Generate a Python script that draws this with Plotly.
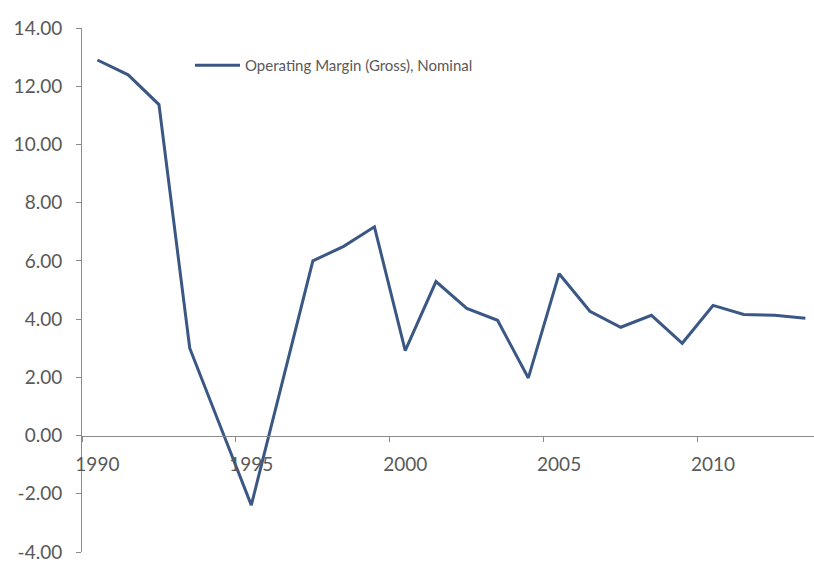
import plotly.graph_objects as go

years = list(range(1990, 2014))
margin = [12.90, 12.39, 11.37, 3.00, 0.30, -2.39, 1.80, 6.00, 6.50, 7.17,
          2.92, 5.29, 4.37, 3.96, 1.98, 5.56, 4.27, 3.72, 4.13, 3.17,
          4.47, 4.16, 4.13, 4.03]
series_name = "Operating Margin (Gross), Nominal"
ytick_vals = [-4, -2, 0, 2, 4, 6, 8, 10, 12, 14]
xtick_vals = [1990, 1995, 2000, 2005, 2010]

LINE = "#3B5784"
TXT = "#595959"
AX = "#8C8C8C"
FONT = "Lato"

T, B = 28, 11
H = 563 - T - B

fig = go.Figure()
fig.add_trace(go.Scatter(x=years, y=margin, mode="lines", name=series_name,
                         line=dict(color=LINE, width=3), showlegend=True))

fig.update_layout(
    width=814, height=563,
    margin=dict(l=82, r=0, t=T, b=B, autoexpand=False),
    paper_bgcolor="white", plot_bgcolor="white",
    font=dict(family=FONT, size=19, color=TXT),
    showlegend=True,
    legend=dict(x=(190 - 82) / 732, y=1 - 21 / H, itemwidth=45,
                xanchor="left", yanchor="top", bgcolor="rgba(0,0,0,0)",
                font=dict(family=FONT, size=15, color=TXT)),
    xaxis=dict(range=[1989.5, 2013.28], tickvals=xtick_vals,
               ticktext=[str(v) for v in xtick_vals],
               showgrid=False, zeroline=False, showline=True, linecolor=AX, linewidth=1,
               anchor="free", position=4 / 18, ticks="",
               ticklabelstandoff=12,
               minor=dict(tick0=1989.5, dtick=5, ticks="outside", ticklen=5, tickcolor=AX,
                          showgrid=False),
               tickfont=dict(family=FONT, size=19, color=TXT)),
    yaxis=dict(range=[-4.0, 14.0], tickvals=ytick_vals,
               ticktext=[f"{v:.2f}" for v in ytick_vals],
               showgrid=False, zeroline=False, showline=True, linecolor=AX, linewidth=1,
               ticks="outside", ticklen=5, tickcolor=AX, ticklabelstandoff=10,
               ticklabeloverflow="allow",
               tickfont=dict(family=FONT, size=19, color=TXT)),
)

fig.write_html("out.html")
